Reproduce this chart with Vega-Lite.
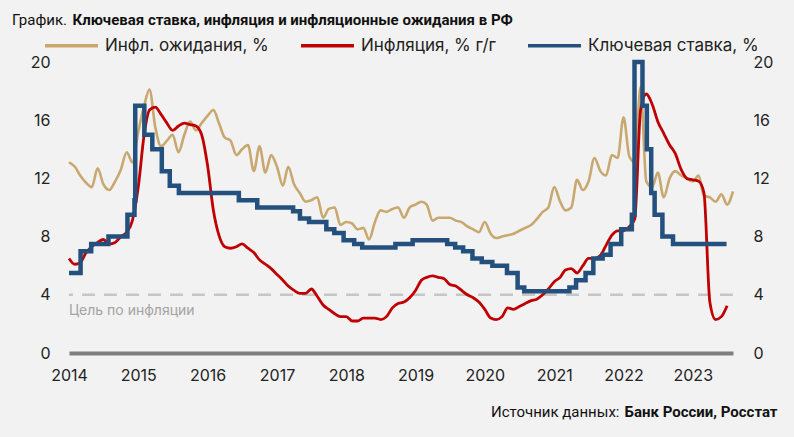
{
  "$schema": "https://vega.github.io/schema/vega-lite/v6.json",
  "width": 664,
  "height": 291,
  "autosize": {"type": "none"},
  "padding": {"left": 69, "top": 62, "right": 61, "bottom": 84},
  "background": "#f2f2f2",
  "config": {"view": {"stroke": null}},
  "title": {"text": "График.", "anchor": "start", "frame": "group", "dx": -57, "dy": 26, "fontSize": 15, "fontWeight": "normal", "font": "Roboto", "color": "#111111", "offset": 10},
  "datasets": {
    "exp": [
      {"d": "2014-01-01", "v": 13.1}, {"d": "2014-02-01", "v": 12.8}, {"d": "2014-03-01", "v": 12.2}, {"d": "2014-04-01", "v": 11.7},
      {"d": "2014-05-01", "v": 11.4}, {"d": "2014-06-01", "v": 12.7}, {"d": "2014-07-01", "v": 11.6}, {"d": "2014-08-01", "v": 11.2},
      {"d": "2014-09-01", "v": 11.8}, {"d": "2014-10-01", "v": 12.6}, {"d": "2014-11-01", "v": 13.8}, {"d": "2014-12-01", "v": 13.1},
      {"d": "2015-01-01", "v": 15.2}, {"d": "2015-02-01", "v": 17.0}, {"d": "2015-03-01", "v": 18.1}, {"d": "2015-04-01", "v": 15.5},
      {"d": "2015-05-01", "v": 14.2}, {"d": "2015-06-01", "v": 14.6}, {"d": "2015-07-01", "v": 15.0}, {"d": "2015-08-01", "v": 13.8},
      {"d": "2015-09-01", "v": 15.0}, {"d": "2015-10-01", "v": 15.9}, {"d": "2015-11-01", "v": 15.3}, {"d": "2015-12-01", "v": 15.8},
      {"d": "2016-01-01", "v": 16.3}, {"d": "2016-02-01", "v": 16.7}, {"d": "2016-03-01", "v": 15.8}, {"d": "2016-04-01", "v": 14.8},
      {"d": "2016-05-01", "v": 14.6}, {"d": "2016-06-01", "v": 13.6}, {"d": "2016-07-01", "v": 14.0}, {"d": "2016-08-01", "v": 14.3},
      {"d": "2016-09-01", "v": 12.5}, {"d": "2016-10-01", "v": 14.2}, {"d": "2016-11-01", "v": 12.4}, {"d": "2016-12-01", "v": 13.6},
      {"d": "2017-01-01", "v": 12.8}, {"d": "2017-02-01", "v": 11.5}, {"d": "2017-03-01", "v": 12.8}, {"d": "2017-04-01", "v": 11.6},
      {"d": "2017-05-01", "v": 11.0}, {"d": "2017-06-01", "v": 10.4}, {"d": "2017-07-01", "v": 10.5}, {"d": "2017-08-01", "v": 10.7},
      {"d": "2017-09-01", "v": 9.3}, {"d": "2017-10-01", "v": 9.9}, {"d": "2017-11-01", "v": 10.0}, {"d": "2017-12-01", "v": 8.8},
      {"d": "2018-01-01", "v": 9.0}, {"d": "2018-02-01", "v": 8.9}, {"d": "2018-03-01", "v": 8.5}, {"d": "2018-04-01", "v": 8.6},
      {"d": "2018-05-01", "v": 7.8}, {"d": "2018-06-01", "v": 9.0}, {"d": "2018-07-01", "v": 9.8}, {"d": "2018-08-01", "v": 9.7},
      {"d": "2018-09-01", "v": 9.9}, {"d": "2018-10-01", "v": 10.0}, {"d": "2018-11-01", "v": 9.3}, {"d": "2018-12-01", "v": 10.0},
      {"d": "2019-01-01", "v": 10.2}, {"d": "2019-02-01", "v": 10.4}, {"d": "2019-03-01", "v": 10.2}, {"d": "2019-04-01", "v": 9.1},
      {"d": "2019-05-01", "v": 9.3}, {"d": "2019-06-01", "v": 9.3}, {"d": "2019-07-01", "v": 9.3}, {"d": "2019-08-01", "v": 9.1},
      {"d": "2019-09-01", "v": 9.0}, {"d": "2019-10-01", "v": 8.7}, {"d": "2019-11-01", "v": 8.5}, {"d": "2019-12-01", "v": 8.3},
      {"d": "2020-01-01", "v": 9.0}, {"d": "2020-02-01", "v": 8.2}, {"d": "2020-03-01", "v": 7.9}, {"d": "2020-04-01", "v": 8.0},
      {"d": "2020-05-01", "v": 8.1}, {"d": "2020-06-01", "v": 8.2}, {"d": "2020-07-01", "v": 8.4}, {"d": "2020-08-01", "v": 8.6},
      {"d": "2020-09-01", "v": 8.8}, {"d": "2020-10-01", "v": 9.2}, {"d": "2020-11-01", "v": 9.7}, {"d": "2020-12-01", "v": 10.0},
      {"d": "2021-01-01", "v": 11.4}, {"d": "2021-02-01", "v": 10.4}, {"d": "2021-03-01", "v": 9.8}, {"d": "2021-04-01", "v": 10.0},
      {"d": "2021-05-01", "v": 11.9}, {"d": "2021-06-01", "v": 11.2}, {"d": "2021-07-01", "v": 11.8}, {"d": "2021-08-01", "v": 13.4},
      {"d": "2021-09-01", "v": 12.5}, {"d": "2021-10-01", "v": 12.2}, {"d": "2021-11-01", "v": 13.6}, {"d": "2021-12-01", "v": 13.4},
      {"d": "2022-01-01", "v": 16.2}, {"d": "2022-02-01", "v": 13.5}, {"d": "2022-03-01", "v": 13.1}, {"d": "2022-04-01", "v": 18.3},
      {"d": "2022-05-01", "v": 11.8}, {"d": "2022-06-01", "v": 11.4}, {"d": "2022-07-01", "v": 12.4}, {"d": "2022-08-01", "v": 10.7},
      {"d": "2022-09-01", "v": 12.0}, {"d": "2022-10-01", "v": 12.5}, {"d": "2022-11-01", "v": 12.2}, {"d": "2022-12-01", "v": 12.0},
      {"d": "2023-01-01", "v": 11.8}, {"d": "2023-02-01", "v": 12.2}, {"d": "2023-03-01", "v": 10.8}, {"d": "2023-04-01", "v": 10.7},
      {"d": "2023-05-01", "v": 10.4}, {"d": "2023-06-01", "v": 10.9}, {"d": "2023-07-01", "v": 10.2}, {"d": "2023-08-01", "v": 11.1}
    ],
    "cpi": [
      {"d": "2014-01-01", "v": 6.5}, {"d": "2014-02-01", "v": 6.1}, {"d": "2014-03-01", "v": 6.2}, {"d": "2014-04-01", "v": 6.9},
      {"d": "2014-05-01", "v": 7.3}, {"d": "2014-06-01", "v": 7.6}, {"d": "2014-07-01", "v": 7.8}, {"d": "2014-08-01", "v": 7.5},
      {"d": "2014-09-01", "v": 7.6}, {"d": "2014-10-01", "v": 8.0}, {"d": "2014-11-01", "v": 8.3}, {"d": "2014-12-01", "v": 9.1},
      {"d": "2015-01-01", "v": 11.4}, {"d": "2015-02-01", "v": 15.0}, {"d": "2015-03-01", "v": 16.7}, {"d": "2015-04-01", "v": 16.9},
      {"d": "2015-05-01", "v": 16.4}, {"d": "2015-06-01", "v": 15.8}, {"d": "2015-07-01", "v": 15.3}, {"d": "2015-08-01", "v": 15.6},
      {"d": "2015-09-01", "v": 15.8}, {"d": "2015-10-01", "v": 15.7}, {"d": "2015-11-01", "v": 15.6}, {"d": "2015-12-01", "v": 15.0},
      {"d": "2016-01-01", "v": 12.9}, {"d": "2016-02-01", "v": 9.8}, {"d": "2016-03-01", "v": 8.1}, {"d": "2016-04-01", "v": 7.3},
      {"d": "2016-05-01", "v": 7.2}, {"d": "2016-06-01", "v": 7.3}, {"d": "2016-07-01", "v": 7.5}, {"d": "2016-08-01", "v": 7.2},
      {"d": "2016-09-01", "v": 6.9}, {"d": "2016-10-01", "v": 6.4}, {"d": "2016-11-01", "v": 6.1}, {"d": "2016-12-01", "v": 5.8},
      {"d": "2017-01-01", "v": 5.4}, {"d": "2017-02-01", "v": 5.0}, {"d": "2017-03-01", "v": 4.6}, {"d": "2017-04-01", "v": 4.3},
      {"d": "2017-05-01", "v": 4.1}, {"d": "2017-06-01", "v": 4.1}, {"d": "2017-07-01", "v": 4.4}, {"d": "2017-08-01", "v": 3.9},
      {"d": "2017-09-01", "v": 3.3}, {"d": "2017-10-01", "v": 3.0}, {"d": "2017-11-01", "v": 2.7}, {"d": "2017-12-01", "v": 2.5},
      {"d": "2018-01-01", "v": 2.5}, {"d": "2018-02-01", "v": 2.2}, {"d": "2018-03-01", "v": 2.2}, {"d": "2018-04-01", "v": 2.4},
      {"d": "2018-05-01", "v": 2.4}, {"d": "2018-06-01", "v": 2.4}, {"d": "2018-07-01", "v": 2.3}, {"d": "2018-08-01", "v": 2.5},
      {"d": "2018-09-01", "v": 3.1}, {"d": "2018-10-01", "v": 3.4}, {"d": "2018-11-01", "v": 3.5}, {"d": "2018-12-01", "v": 3.8},
      {"d": "2019-01-01", "v": 4.3}, {"d": "2019-02-01", "v": 5.0}, {"d": "2019-03-01", "v": 5.2}, {"d": "2019-04-01", "v": 5.3},
      {"d": "2019-05-01", "v": 5.2}, {"d": "2019-06-01", "v": 5.1}, {"d": "2019-07-01", "v": 4.7}, {"d": "2019-08-01", "v": 4.6},
      {"d": "2019-09-01", "v": 4.3}, {"d": "2019-10-01", "v": 4.0}, {"d": "2019-11-01", "v": 3.8}, {"d": "2019-12-01", "v": 3.5},
      {"d": "2020-01-01", "v": 3.0}, {"d": "2020-02-01", "v": 2.4}, {"d": "2020-03-01", "v": 2.3}, {"d": "2020-04-01", "v": 2.5},
      {"d": "2020-05-01", "v": 3.1}, {"d": "2020-06-01", "v": 3.0}, {"d": "2020-07-01", "v": 3.2}, {"d": "2020-08-01", "v": 3.4},
      {"d": "2020-09-01", "v": 3.6}, {"d": "2020-10-01", "v": 3.7}, {"d": "2020-11-01", "v": 4.0}, {"d": "2020-12-01", "v": 4.4},
      {"d": "2021-01-01", "v": 4.9}, {"d": "2021-02-01", "v": 5.2}, {"d": "2021-03-01", "v": 5.7}, {"d": "2021-04-01", "v": 5.8},
      {"d": "2021-05-01", "v": 5.5}, {"d": "2021-06-01", "v": 6.0}, {"d": "2021-07-01", "v": 6.5}, {"d": "2021-08-01", "v": 6.5},
      {"d": "2021-09-01", "v": 6.7}, {"d": "2021-10-01", "v": 7.4}, {"d": "2021-11-01", "v": 8.1}, {"d": "2021-12-01", "v": 8.4},
      {"d": "2022-01-01", "v": 8.4}, {"d": "2022-02-01", "v": 8.7}, {"d": "2022-03-01", "v": 9.2}, {"d": "2022-04-01", "v": 16.7},
      {"d": "2022-05-01", "v": 17.8}, {"d": "2022-06-01", "v": 17.1}, {"d": "2022-07-01", "v": 15.9}, {"d": "2022-08-01", "v": 15.1},
      {"d": "2022-09-01", "v": 14.3}, {"d": "2022-10-01", "v": 13.7}, {"d": "2022-11-01", "v": 12.6}, {"d": "2022-12-01", "v": 12.0},
      {"d": "2023-01-01", "v": 11.9}, {"d": "2023-02-01", "v": 11.8}, {"d": "2023-03-01", "v": 11.0}, {"d": "2023-04-01", "v": 3.5},
      {"d": "2023-05-01", "v": 2.3}, {"d": "2023-06-01", "v": 2.5}, {"d": "2023-07-01", "v": 3.25}
    ],
    "rate": [
      {"d": "2014-01-01", "v": 5.5}, {"d": "2014-03-03", "v": 7.0}, {"d": "2014-04-28", "v": 7.5}, {"d": "2014-07-28", "v": 8.0},
      {"d": "2014-11-05", "v": 9.5}, {"d": "2014-12-12", "v": 10.5}, {"d": "2014-12-16", "v": 17.0}, {"d": "2015-02-02", "v": 15.0},
      {"d": "2015-03-16", "v": 14.0}, {"d": "2015-05-05", "v": 12.5}, {"d": "2015-06-16", "v": 11.5}, {"d": "2015-08-03", "v": 11.0},
      {"d": "2016-06-14", "v": 10.5}, {"d": "2016-09-19", "v": 10.0}, {"d": "2017-03-27", "v": 9.75}, {"d": "2017-05-02", "v": 9.25},
      {"d": "2017-06-19", "v": 9.0}, {"d": "2017-09-18", "v": 8.5}, {"d": "2017-10-30", "v": 8.25}, {"d": "2017-12-18", "v": 7.75},
      {"d": "2018-02-12", "v": 7.5}, {"d": "2018-03-26", "v": 7.25}, {"d": "2018-09-17", "v": 7.5}, {"d": "2018-12-17", "v": 7.75},
      {"d": "2019-06-17", "v": 7.5}, {"d": "2019-07-29", "v": 7.25}, {"d": "2019-09-09", "v": 7.0}, {"d": "2019-10-28", "v": 6.5},
      {"d": "2019-12-16", "v": 6.25}, {"d": "2020-02-10", "v": 6.0}, {"d": "2020-04-27", "v": 5.5}, {"d": "2020-06-22", "v": 4.5},
      {"d": "2020-07-27", "v": 4.25}, {"d": "2021-03-22", "v": 4.5}, {"d": "2021-04-26", "v": 5.0}, {"d": "2021-06-15", "v": 5.5},
      {"d": "2021-07-26", "v": 6.5}, {"d": "2021-09-13", "v": 6.75}, {"d": "2021-10-25", "v": 7.5}, {"d": "2021-12-20", "v": 8.5},
      {"d": "2022-02-14", "v": 9.5}, {"d": "2022-02-28", "v": 20.0}, {"d": "2022-04-11", "v": 17.0}, {"d": "2022-05-04", "v": 14.0},
      {"d": "2022-05-27", "v": 11.0}, {"d": "2022-06-14", "v": 9.5}, {"d": "2022-07-25", "v": 8.0}, {"d": "2022-09-19", "v": 7.5},
      {"d": "2023-06-28", "v": 7.5}
    ],
    "one": [{}]
  },
  "resolve": {"axis": {"y": "independent"}},
  "layer": [
    {
      "data": {"name": "one"},
      "mark": {"type": "rule", "stroke": "#c6c6c6", "strokeWidth": 2.5, "strokeDash": [13, 9]},
      "encoding": {
        "y": {"datum": 4, "type": "quantitative", "scale": {"domain": [0, 20], "nice": false}, "axis": null}
      }
    },
    {
      "data": {"name": "one"},
      "mark": {"type": "text", "text": "Цель по инфляции", "align": "left", "baseline": "middle", "dy": 16, "font": "Inter", "fontSize": 14, "color": "#a3a3a3"},
      "encoding": {
        "x": {"datum": {"year": 2014, "month": 1, "date": 1, "utc": true}, "type": "temporal", "scale": {"type": "utc", "domain": [{"year": 2014, "month": 1, "date": 1, "utc": true}, {"year": 2023, "month": 8, "date": 1, "utc": true}]},
          "axis": {"title": "Источник данных:", "titleFont": "Roboto", "titleFontSize": 15, "titleFontWeight": "normal", "titleColor": "#111111", "titleAlign": "right", "titleBaseline": "alphabetic", "titleAnchor": null, "titleX": 550, "titleY": 63, "format": "%Y", "tickCount": {"interval": "year", "step": 1}, "labelFont": "Inter", "labelFontSize": 16, "labelColor": "#222222", "labelPadding": 14, "ticks": false, "grid": false, "domainColor": "#7f7f7f", "domainWidth": 4, "labelFlush": false, "labelOverlap": false}},
        "y": {"datum": 4, "type": "quantitative", "scale": {"domain": [0, 20], "nice": false}, "axis": null}
      }
    },
    {
      "data": {"name": "exp"},
      "mark": {"type": "line", "strokeWidth": 2.6, "interpolate": "monotone"},
      "encoding": {
        "x": {"field": "d", "type": "temporal", "scale": {"type": "utc", "domain": [{"year": 2014, "month": 1, "date": 1, "utc": true}, {"year": 2023, "month": 8, "date": 1, "utc": true}]},
          "axis": {"title": "Источник данных:", "titleFont": "Roboto", "titleFontSize": 15, "titleFontWeight": "normal", "titleColor": "#111111", "titleAlign": "right", "titleBaseline": "alphabetic", "titleAnchor": null, "titleX": 550, "titleY": 63, "format": "%Y", "tickCount": {"interval": "year", "step": 1}, "labelFont": "Inter", "labelFontSize": 16, "labelColor": "#222222", "labelPadding": 14, "ticks": false, "grid": false, "domainColor": "#7f7f7f", "domainWidth": 4, "labelFlush": false, "labelOverlap": false}},
        "y": {"field": "v", "type": "quantitative", "scale": {"domain": [0, 20], "nice": false},
          "axis": {"orient": "left", "values": [0, 4, 8, 12, 16, 20], "ticks": false, "domain": false, "grid": false, "labelFont": "Inter", "labelFontSize": 16, "labelColor": "#222222", "labelPadding": 19,
            "title": "Ключевая ставка, инфляция и инфляционные ожидания в РФ", "titleAngle": 0, "titleAlign": "left", "titleBaseline": "alphabetic", "titleAnchor": null, "titleX": 3, "titleY": -38, "titleFont": "Roboto", "titleFontSize": 15, "titleFontWeight": "bold", "titleColor": "#111111"}},
        "color": {"datum": "Инфл. ожидания, %", "type": "nominal",
          "scale": {"domain": ["Инфл. ожидания, %", "Инфляция, % г/г", "Ключевая ставка, %"], "range": ["#c9a870", "#c00000", "#23507d"]},
          "legend": {"orient": "none", "legendX": -26, "legendY": -45, "direction": "horizontal", "title": null, "symbolType": "stroke", "symbolSize": 2809, "symbolStrokeWidth": 3.5, "labelFont": "Inter", "labelFontSize": 17, "labelColor": "#222222", "labelLimit": 400, "columnPadding": 25, "labelOffset": 5}}
      }
    },
    {
      "data": {"name": "cpi"},
      "mark": {"type": "line", "strokeWidth": 2.8, "interpolate": "monotone"},
      "encoding": {
        "x": {"field": "d", "type": "temporal", "scale": {"type": "utc", "domain": [{"year": 2014, "month": 1, "date": 1, "utc": true}, {"year": 2023, "month": 8, "date": 1, "utc": true}]},
          "axis": {"title": "Источник данных:", "titleFont": "Roboto", "titleFontSize": 15, "titleFontWeight": "normal", "titleColor": "#111111", "titleAlign": "right", "titleBaseline": "alphabetic", "titleAnchor": null, "titleX": 550, "titleY": 63, "format": "%Y", "tickCount": {"interval": "year", "step": 1}, "labelFont": "Inter", "labelFontSize": 16, "labelColor": "#222222", "labelPadding": 14, "ticks": false, "grid": false, "domainColor": "#7f7f7f", "domainWidth": 4, "labelFlush": false, "labelOverlap": false}},
        "y": {"field": "v", "type": "quantitative", "scale": {"domain": [0, 20], "nice": false}, "axis": null},
        "color": {"datum": "Инфляция, % г/г", "type": "nominal"}
      }
    },
    {
      "data": {"name": "rate"},
      "mark": {"type": "line", "strokeWidth": 4.5, "interpolate": "step-after"},
      "encoding": {
        "x": {"field": "d", "type": "temporal", "scale": {"type": "utc", "domain": [{"year": 2014, "month": 1, "date": 1, "utc": true}, {"year": 2023, "month": 8, "date": 1, "utc": true}]},
          "axis": {"title": "Источник данных:", "titleFont": "Roboto", "titleFontSize": 15, "titleFontWeight": "normal", "titleColor": "#111111", "titleAlign": "right", "titleBaseline": "alphabetic", "titleAnchor": null, "titleX": 550, "titleY": 63, "format": "%Y", "tickCount": {"interval": "year", "step": 1}, "labelFont": "Inter", "labelFontSize": 16, "labelColor": "#222222", "labelPadding": 14, "ticks": false, "grid": false, "domainColor": "#7f7f7f", "domainWidth": 4, "labelFlush": false, "labelOverlap": false}},
        "y": {"field": "v", "type": "quantitative", "scale": {"domain": [0, 20], "nice": false},
          "axis": {"orient": "right", "values": [0, 4, 8, 12, 16, 20], "ticks": false, "domain": false, "grid": false, "labelFont": "Inter", "labelFontSize": 16, "labelColor": "#222222", "labelPadding": 20,
            "title": "Банк России, Росстат", "titleAngle": 0, "titleAlign": "right", "titleBaseline": "alphabetic", "titleAnchor": null, "titleX": 44, "titleY": 354, "titleFont": "Roboto", "titleFontSize": 15, "titleFontWeight": "bold", "titleColor": "#111111"}},
        "color": {"datum": "Ключевая ставка, %", "type": "nominal"}
      }
    }
  ]
}
